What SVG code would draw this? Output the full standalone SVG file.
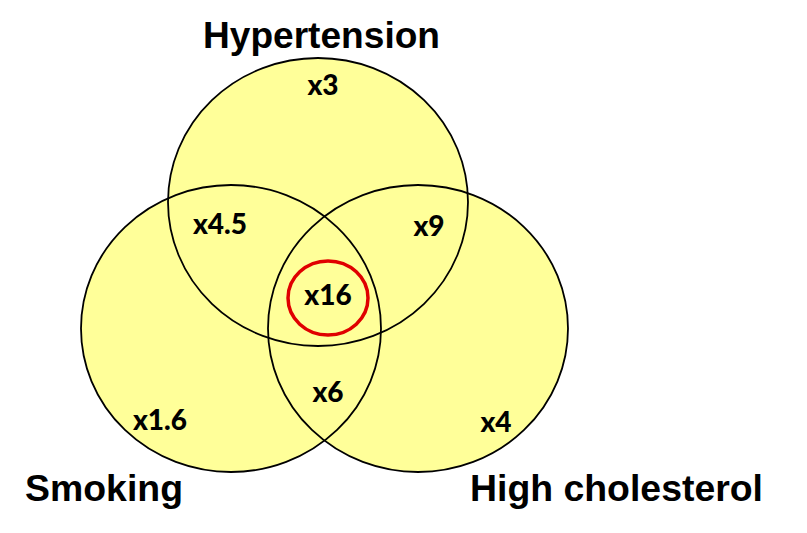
<svg xmlns="http://www.w3.org/2000/svg" width="807" height="533" viewBox="0 0 807 533">
  <style>
    .fill { fill: #FFFF99; stroke: none; }
    .edge { fill: none; stroke: #000; stroke-width: 1.8; }
    .title { font-family: "Liberation Sans", Arial, sans-serif; font-weight: bold; font-size: 37px; fill: #000; }
    .num { font-family: Lato, "Open Sans", "Liberation Sans", sans-serif; font-weight: 900; font-size: 28px; fill: #000; text-anchor: middle; }
  </style>
  <rect width="807" height="533" fill="#fff"/>
  <g id="fills">
    <ellipse class="fill" cx="318" cy="202" rx="150" ry="144"/>
    <ellipse class="fill" cx="231" cy="328.5" rx="150" ry="143.5"/>
    <ellipse class="fill" cx="418" cy="328.5" rx="150" ry="143.5"/>
  </g>
  <g id="hypertension">
    <ellipse class="edge" cx="318" cy="202" rx="150" ry="144"/>
    <text class="title" x="203" y="48" textLength="237" lengthAdjust="spacingAndGlyphs">Hypertension</text>
  </g>
  <g id="smoking">
    <ellipse class="edge" cx="231" cy="328.5" rx="150" ry="143.5"/>
    <text class="title" x="25" y="501" textLength="158" lengthAdjust="spacingAndGlyphs">Smoking</text>
  </g>
  <g id="cholesterol">
    <ellipse class="edge" cx="418" cy="328.5" rx="150" ry="143.5"/>
    <text class="title" x="470" y="501" textLength="293" lengthAdjust="spacingAndGlyphs">High cholesterol</text>
  </g>
  <g id="labels">
    <text class="num" x="323" y="95">x3</text>
    <text class="num" x="220" y="234">x4.5</text>
    <text class="num" x="429" y="236">x9</text>
    <text class="num" x="328" y="305">x16</text>
    <text class="num" x="328" y="402">x6</text>
    <text class="num" x="160" y="430">x1.6</text>
    <text class="num" x="496" y="432">x4</text>
  </g>
  <g id="highlight">
    <ellipse cx="328" cy="298" rx="40" ry="37" fill="none" stroke="#E00000" stroke-width="3.5"/>
  </g>
</svg>
